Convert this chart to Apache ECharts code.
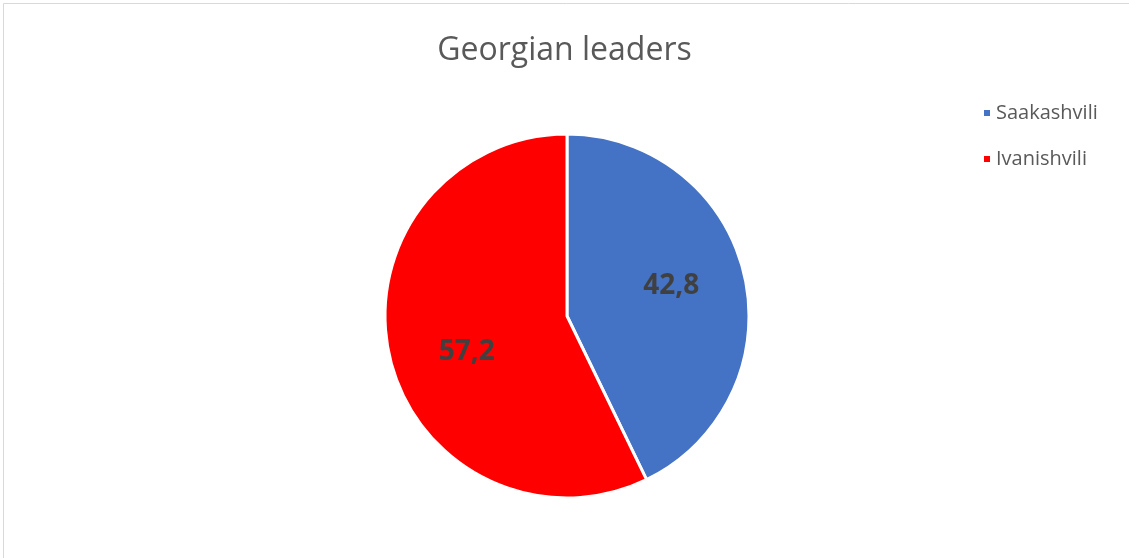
<!DOCTYPE html>
<html>
<head>
<meta charset="utf-8">
<script src="https://cdn.jsdelivr.net/npm/echarts@6/dist/echarts.min.js"></script>
<style>
html,body{margin:0;padding:0;background:#fff;}
#chart{width:1129px;height:558px;}
</style>
</head>
<body>
<div id="chart"></div>
<script>
const categories = ['Saakashvili', 'Ivanishvili'];
const values = [42.8, 57.2];
const labels = ['42,8', '57,2'];
const colors = ['#4472C4', '#FF0000'];

const chart = echarts.init(document.getElementById('chart'), null, {renderer: 'canvas'});
const pieData = categories.map((c, i) => ({name: c, value: values[i], itemStyle: {color: colors[i]}}));
const labelData = categories.map((c, i) => ({name: c, value: values[i], label: {formatter: labels[i]}}));
const labelNudge = [[-3, -5], [7, 11]];

chart.setOption({
  animation: false,
  backgroundColor: '#fff',
  graphic: [{
    type: 'rect', shape: {x: 3.5, y: 3.5, width: 1300, height: 700},
    style: {fill: 'none', stroke: '#d9d9d9', lineWidth: 1}, silent: true
  }],
  title: {
    text: 'Georgian leaders',
    left: 'center',
    top: 30,
    textStyle: {fontFamily: 'Open Sans', fontWeight: 'normal', fontSize: 32, color: '#595959'}
  },
  legend: {
    orient: 'vertical',
    left: 982,
    top: 101,
    padding: 0,
    icon: 'rect',
    itemWidth: 8,
    itemHeight: 8,
    itemGap: 22,
    data: categories,
    textStyle: {fontFamily: 'Open Sans', fontSize: 20, color: '#595959', lineHeight: 24}
  },
  series: [{
    type: 'pie',
    center: [567, 316],
    radius: 182,
    startAngle: 90,
    clockwise: true,
    label: {show: false},
    labelLine: {show: false},
    itemStyle: {borderColor: '#fff', borderWidth: 3},
    emphasis: {disabled: true},
    data: pieData
  }, {
    type: 'pie',
    center: [567, 316],
    radius: [0, 214],
    startAngle: 90,
    clockwise: true,
    silent: true,
    itemStyle: {color: 'rgba(0,0,0,0)', borderWidth: 0},
    label: {show: true, position: 'inside', fontFamily: 'Open Sans', fontWeight: 'bold', fontSize: 28, color: '#404040'},
    labelLine: {show: false},
    labelLayout: function (p) { return {dx: labelNudge[p.dataIndex][0], dy: labelNudge[p.dataIndex][1]}; },
    emphasis: {disabled: true},
    data: labelData
  }]
});
</script>
</body>
</html>
